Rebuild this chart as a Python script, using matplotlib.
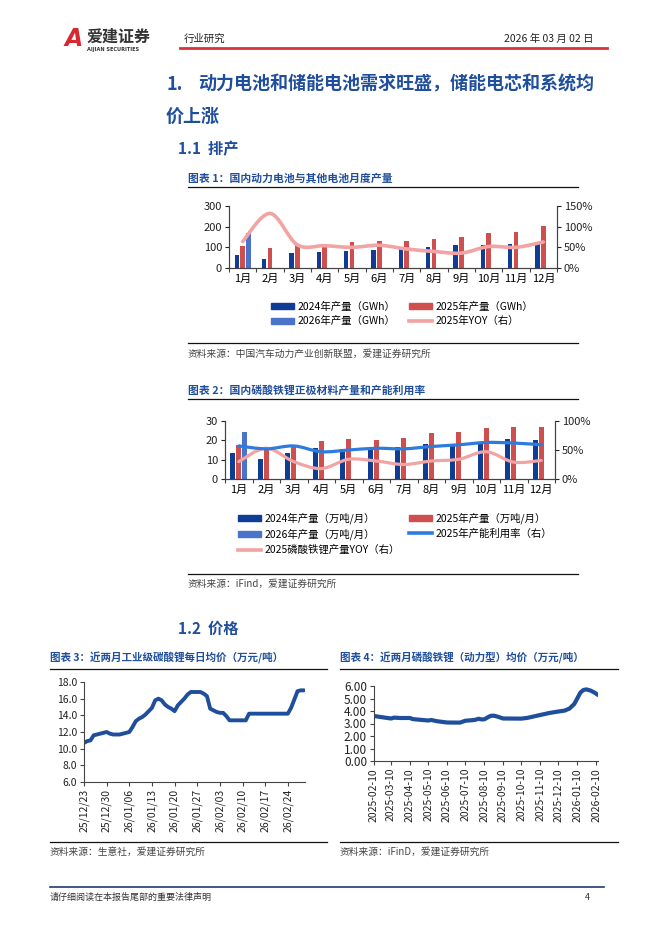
import numpy as np
import pandas as pd
import matplotlib
matplotlib.use("Agg")
import matplotlib.pyplot as plt
import matplotlib.dates as mdates
from matplotlib.path import Path
from matplotlib.patches import PathPatch, Patch
from matplotlib.lines import Line2D

plt.rcParams["font.family"] = ["Noto Sans CJK SC", "DejaVu Sans"]
plt.rcParams["axes.unicode_minus"] = False

W, H = 662, 936
BLUE_T = "#1F4E9C"
DARK = "#0F3D96"
RED = "#CF4F4E"
LIGHT = "#4A74C9"
PINK = "#F2A3A3"
LINEBLUE = "#2E7BDF"
AX = "#444444"

# ---- data ----
months = ["1月", "2月", "3月", "4月", "5月", "6月", "7月", "8月", "9月", "10月", "11月", "12月"]

bat_2024 = [64, 43, 75, 77, 82, 85, 96, 101, 111, 112, 117, 120]
bat_2025 = [107, 99, 116, 117, 124, 130, 133, 140, 151, 170, 175, 202]
bat_2026 = [168]
bat_yoy = [64, 132, 56, 54, 50, 55, 46, 40, 36, 52, 50, 63]

lfp_2024 = [13.3, 10.3, 13.3, 16.2, 15.5, 15.3, 16.5, 17.9, 17.6, 19.0, 20.7, 20.2]
lfp_2025 = [17.6, 15.9, 16.5, 19.6, 20.9, 20.2, 21.2, 23.8, 24.5, 26.6, 26.7, 26.7]
lfp_2026 = [24.5]
lfp_util = [57, 52, 57, 47, 50, 53, 52, 56, 59, 63, 62, 59]
lfp_yoy = [30, 53, 30, 18, 34, 31, 25, 31, 34, 47, 29, 32]

li2co3_start = "2025-12-23"
li2co3 = [10.7, 10.9, 11.0, 11.6, 11.7, 11.8, 11.9, 12.0,
          11.8, 11.7, 11.7, 11.7, 11.8, 11.9, 12.0,
          12.6, 13.3, 13.6, 13.8, 14.1, 14.5, 14.9,
          15.8, 16.0, 15.8, 15.3, 15.0, 14.8, 14.5,
          15.2, 15.6, 16.0, 16.5, 16.8, 16.8, 16.8,
          16.8, 16.6, 16.3, 14.8, 14.6, 14.4, 14.3,
          14.3, 13.9, 13.4, 13.4, 13.4, 13.4, 13.4,
          13.4, 14.2, 14.2, 14.2, 14.2, 14.2, 14.2,
          14.2, 14.2, 14.2, 14.2, 14.2, 14.2, 14.2,
          14.9, 15.9, 16.9, 17.0, 17.0]

lfp_dates = ["2025-02-10", "2025-02-25", "2025-03-10", "2025-03-15", "2025-03-25",
             "2025-04-10", "2025-04-15", "2025-05-10", "2025-05-15", "2025-05-25",
             "2025-06-10", "2025-07-01", "2025-07-10", "2025-07-25", "2025-08-01",
             "2025-08-05", "2025-08-10", "2025-08-20", "2025-08-25", "2025-09-01",
             "2025-09-10", "2025-10-10", "2025-10-20", "2025-11-10", "2025-11-25",
             "2025-12-10", "2025-12-20", "2025-12-28", "2026-01-05", "2026-01-10",
             "2026-01-15", "2026-01-20", "2026-01-25", "2026-02-01", "2026-02-08",
             "2026-02-13"]
lfp_price = [3.60, 3.49, 3.40, 3.47, 3.44,
             3.44, 3.35, 3.24, 3.28, 3.18,
             3.08, 3.07, 3.22, 3.28, 3.38,
             3.33, 3.33, 3.60, 3.63, 3.55,
             3.40, 3.39, 3.45, 3.68, 3.84,
             3.96, 4.03, 4.19, 4.56, 5.01,
             5.47, 5.68, 5.73, 5.63, 5.45,
             5.28]


def rect(x0, y0, x1, y1):
    return [x0 / W, 1 - y1 / H, (x1 - x0) / W, (y1 - y0) / H]


def smooth(ax, x, y, **kw):
    # Catmull-Rom style bezier path, like a spreadsheet "smoothed line"
    x = np.asarray(x, float); y = np.asarray(y, float)
    verts = [(x[0], y[0])]
    codes = [Path.MOVETO]
    n = len(x)
    for i in range(n - 1):
        p0 = (x[max(i - 1, 0)], y[max(i - 1, 0)])
        p1 = (x[i], y[i]); p2 = (x[i + 1], y[i + 1])
        p3 = (x[min(i + 2, n - 1)], y[min(i + 2, n - 1)])
        c1 = (p1[0] + (p2[0] - p0[0]) / 6, p1[1] + (p2[1] - p0[1]) / 6)
        c2 = (p2[0] - (p3[0] - p1[0]) / 6, p2[1] - (p3[1] - p1[1]) / 6)
        verts += [c1, c2, p2]
        codes += [Path.CURVE4] * 3
    ax.add_patch(PathPatch(Path(verts, codes), fill=False, capstyle="round", **kw))


def style_bar_axes(ax, ax2):
    for a in (ax, ax2):
        a.spines["top"].set_visible(False)
        for s in ("left", "right", "bottom"):
            a.spines[s].set_color(AX)
            a.spines[s].set_linewidth(0.8)
    ax.tick_params(axis="y", length=3, width=0.8, labelsize=8, colors="#222222", pad=2)
    ax2.tick_params(axis="y", length=3, width=0.8, labelsize=8, colors="#222222", pad=2)
    ax.set_xticks(range(12))
    ax.set_xticklabels(months, fontsize=8)
    ax.tick_params(axis="x", which="major", length=0, pad=4)
    ax.set_xticks(np.arange(-0.5, 12, 1), minor=True)
    ax.tick_params(axis="x", which="minor", length=3, width=0.8, color=AX)
    ax.set_xlim(-0.5, 11.5)


fig = plt.figure(figsize=(W / 100, H / 100), dpi=100)

# ---- header ----
fig.text(65 / W, 1 - 39 / H, "A", color="#D7282F", fontsize=17, fontweight="heavy",
         fontstyle="italic", va="center", ha="left", family="DejaVu Sans")
fig.text(87 / W, 1 - 37 / H, "爱建证券", color="#333333", fontsize=11.5, fontweight="bold",
         va="center", ha="left")
fig.text(87 / W, 1 - 49.5 / H, "AIJIAN SECURITIES", color="#333333", fontsize=3.6,
         fontweight="bold", va="center", ha="left", family="DejaVu Sans")
fig.text(184 / W, 1 - 39 / H, "行业研究", fontsize=7.5, va="center", ha="left", color="#222222")
fig.text(593 / W, 1 - 39 / H, "2026 年 03 月 02 日", fontsize=7.5, va="center", ha="right",
         color="#222222")
fig.add_artist(Line2D([180 / W, 607 / W], [1 - 48 / H] * 2, color="#D6333A", lw=2))

fig.text(166 / W, 1 - 84 / H, "1.", fontsize=13, fontweight="bold", color=BLUE_T, va="center")
fig.text(198 / W, 1 - 84 / H, "动力电池和储能电池需求旺盛，储能电芯和系统均", fontsize=13,
         fontweight="bold", color=BLUE_T, va="center")
fig.text(166 / W, 1 - 116 / H, "价上涨", fontsize=13, fontweight="bold", color=BLUE_T, va="center")
fig.text(178 / W, 1 - 149 / H, "1.1  排产", fontsize=11, fontweight="bold", color=BLUE_T,
         va="center")

# ---- chart 1 ----
fig.text(188 / W, 1 - 178 / H, "图表 1：国内动力电池与其他电池月度产量", fontsize=7.8,
         fontweight="bold", color=BLUE_T, va="center")
fig.add_artist(Line2D([188 / W, 578 / W], [1 - 187 / H] * 2, color="#111111", lw=0.9))

x = np.arange(12)
ax1 = fig.add_axes(rect(229, 206, 557, 268))
ax1.bar(x - 0.21, bat_2024, width=0.16, color=DARK, zorder=2)
ax1.bar(x, bat_2025, width=0.16, color=RED, zorder=2)
ax1.bar(x[:len(bat_2026)] + 0.21, bat_2026, width=0.16, color=LIGHT, zorder=2)
ax1.set_ylim(0, 300)
ax1.set_yticks([0, 100, 200, 300])
ax1b = ax1.twinx()
ax1b.set_ylim(0, 150)
ax1b.set_yticks([0, 50, 100, 150])
ax1b.set_yticklabels(["0%", "50%", "100%", "150%"])
smooth(ax1b, x, bat_yoy, color=PINK, lw=2.6)
style_bar_axes(ax1, ax1b)

h1 = [Patch(color=DARK), Patch(color=LIGHT), Patch(color=RED), Line2D([], [], color=PINK, lw=2.6)]
l1 = ["2024年产量（GWh）", "2026年产量（GWh）", "2025年产量（GWh）", "2025年YOY（右）"]
fig.legend(h1, l1, ncol=2, loc="center", bbox_to_anchor=(402 / W, 1 - 314 / H), frameon=False,
           fontsize=7.5, handlelength=2.2, handleheight=0.55, handletextpad=0.35,
           columnspacing=1.3, labelspacing=0.45)

fig.add_artist(Line2D([188 / W, 578 / W], [1 - 343 / H] * 2, color="#111111", lw=0.9))
fig.text(188 / W, 1 - 354 / H, "资料来源：中国汽车动力产业创新联盟，爱建证券研究所", fontsize=7,
         color="#444444", va="center")

# ---- chart 2 ----
fig.text(188 / W, 1 - 390 / H, "图表 2：国内磷酸铁锂正极材料产量和产能利用率", fontsize=7.8,
         fontweight="bold", color=BLUE_T, va="center")
fig.add_artist(Line2D([188 / W, 578 / W], [1 - 399 / H] * 2, color="#111111", lw=0.9))

ax2 = fig.add_axes(rect(225, 421, 555, 479))
ax2.bar(x - 0.22, lfp_2024, width=0.17, color=DARK, zorder=2)
ax2.bar(x, lfp_2025, width=0.17, color=RED, zorder=2)
ax2.bar(x[:len(lfp_2026)] + 0.22, lfp_2026, width=0.17, color=LIGHT, zorder=2)
ax2.set_ylim(0, 30)
ax2.set_yticks([0, 10, 20, 30])
ax2b = ax2.twinx()
ax2b.set_ylim(0, 100)
ax2b.set_yticks([0, 50, 100])
ax2b.set_yticklabels(["0%", "50%", "100%"])
smooth(ax2b, x, lfp_yoy, color=PINK, lw=2.3)
smooth(ax2b, x, lfp_util, color=LINEBLUE, lw=2.3)
style_bar_axes(ax2, ax2b)

h2 = [Patch(color=DARK), Patch(color=LIGHT), Line2D([], [], color=PINK, lw=2.6),
      Patch(color=RED), Line2D([], [], color=LINEBLUE, lw=2.6)]
l2 = ["2024年产量（万吨/月）", "2026年产量（万吨/月）", "2025磷酸铁锂产量YOY（右）",
      "2025年产量（万吨/月）", "2025年产能利用率（右）"]
fig.legend(h2, l2, ncol=2, loc="upper left", bbox_to_anchor=(229 / W, 1 - 503 / H), frameon=False,
           fontsize=7.5, handlelength=2.2, handleheight=0.55, handletextpad=0.35,
           columnspacing=0.8, labelspacing=0.45)

fig.add_artist(Line2D([188 / W, 578 / W], [1 - 574 / H] * 2, color="#111111", lw=0.9))
fig.text(188 / W, 1 - 584 / H, "资料来源：iFind，爱建证券研究所", fontsize=7,
         color="#444444", va="center")

fig.text(178 / W, 1 - 629 / H, "1.2  价格", fontsize=11, fontweight="bold", color=BLUE_T,
         va="center")

# ---- chart 3 ----
fig.text(50 / W, 1 - 658 / H, "图表 3：近两月工业级碳酸锂每日均价（万元/吨）", fontsize=7.6,
         fontweight="bold", color=BLUE_T, va="center")
fig.add_artist(Line2D([50 / W, 327 / W], [1 - 669 / H] * 2, color="#111111", lw=0.9))

days = pd.date_range(li2co3_start, periods=len(li2co3), freq="D")
ax3 = fig.add_axes(rect(84, 682, 305, 782))
xi = np.arange(len(li2co3))
ax3.plot(xi, li2co3, color=BLUE_T, lw=2.8, solid_joinstyle="round", solid_capstyle="round")
ax3.set_ylim(6, 18)
ax3.set_yticks(np.arange(6, 18.1, 2))
ax3.set_yticklabels([f"{v:.1f}" for v in np.arange(6, 18.1, 2)])
ax3.set_xlim(0, 68.3)
ax3.set_xticks(xi[::7])
ax3.set_xticklabels([d.strftime("%y/%m/%d") for d in days[::7]], rotation=90)

# ---- chart 4 ----
fig.text(340 / W, 1 - 658 / H, "图表 4：近两月磷酸铁锂（动力型）均价（万元/吨）", fontsize=7.6,
         fontweight="bold", color=BLUE_T, va="center")
fig.add_artist(Line2D([340 / W, 618 / W], [1 - 669 / H] * 2, color="#111111", lw=0.9))

ax4 = fig.add_axes(rect(374, 686, 598, 761))
ld = pd.to_datetime(lfp_dates)
ax4.plot(ld, lfp_price, color=BLUE_T, lw=3, solid_joinstyle="round", solid_capstyle="round")
ax4.set_ylim(0, 6)
ax4.set_yticks(np.arange(0, 6.1, 1))
ax4.set_yticklabels([f"{v:.2f}" for v in np.arange(0, 6.1, 1)])
ax4.set_xlim(ld[0], ld[-1])
ticks4 = pd.date_range("2025-02-01", periods=13, freq="MS") + pd.Timedelta(days=9)
ax4.set_xticks(ticks4)
ax4.xaxis.set_major_formatter(mdates.DateFormatter("%Y-%m-%d"))
for lab in ax4.get_xticklabels():
    lab.set_rotation(90)

for a in (ax3, ax4):
    a.spines["top"].set_visible(False)
    a.spines["right"].set_visible(False)
    for s in ("left", "bottom"):
        a.spines[s].set_color(AX)
        a.spines[s].set_linewidth(0.8)
    a.tick_params(length=3, width=0.8, color=AX, labelsize=7.5, pad=2, labelcolor="#222222")
ax4.tick_params(axis="y", labelsize=8.5)

fig.add_artist(Line2D([50 / W, 327 / W], [1 - 842 / H] * 2, color="#111111", lw=0.9))
fig.add_artist(Line2D([340 / W, 618 / W], [1 - 842 / H] * 2, color="#111111", lw=0.9))
fig.text(50 / W, 1 - 852 / H, "资料来源：生意社，爱建证券研究所", fontsize=7, color="#444444",
         va="center")
fig.text(340 / W, 1 - 852 / H, "资料来源：iFinD，爱建证券研究所", fontsize=7, color="#444444",
         va="center")

# ---- footer ----
fig.add_artist(Line2D([50 / W, 604 / W], [1 - 887 / H] * 2, color="#1F3C6E", lw=1.2))
fig.text(50 / W, 1 - 897 / H, "请仔细阅读在本报告尾部的重要法律声明", fontsize=6.5,
         color="#333333", va="center")
fig.text(590 / W, 1 - 897 / H, "4", fontsize=6.5, color="#333333", va="center", ha="right")

fig.savefig("out.png", dpi=100)
